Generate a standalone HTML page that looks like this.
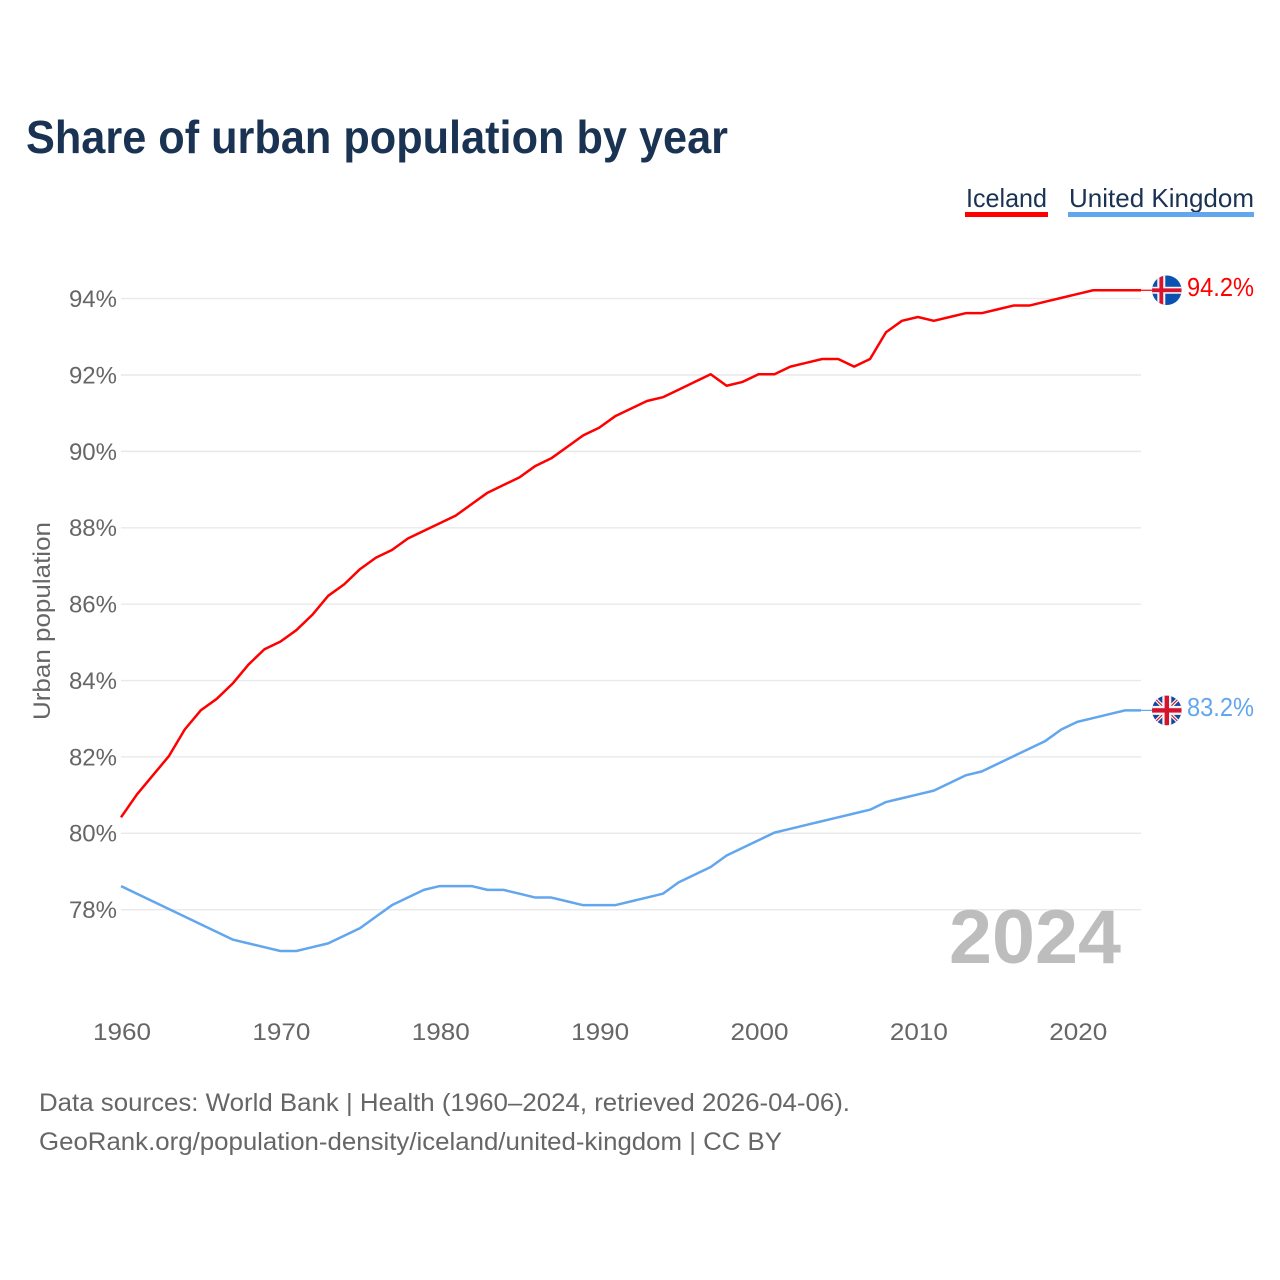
<!DOCTYPE html>
<html lang="en">
<head>
<meta charset="utf-8">
<title>Share of urban population by year</title>
<style>
html,body{margin:0;padding:0;background:#fff;}
svg{display:block;font-family:"Liberation Sans",sans-serif;}
</style>
</head>
<body>
<svg id="chart" xmlns="http://www.w3.org/2000/svg" width="1280" height="1280" viewBox="0 0 1280 1280">
  <defs>
    <clipPath id="flag-clip-iceland"><circle cx="0" cy="0" r="14.8"/></clipPath>
    <clipPath id="flag-clip-uk"><circle cx="0" cy="0" r="14.8"/></clipPath>
  </defs>
  <rect x="0" y="0" width="1280" height="1280" fill="#ffffff"/>
  <text x="26" y="153" font-size="46" font-weight="700" fill="#1a3353" textLength="702" lengthAdjust="spacingAndGlyphs">Share of urban population by year</text>

  <g>
    <g>
      <text x="966" y="207" font-size="26" fill="#1a3353" textLength="81" lengthAdjust="spacingAndGlyphs">Iceland</text>
      <rect x="965" y="212" width="83" height="5" fill="#ff0000"/>
    </g>
    <g>
      <text x="1069" y="207" font-size="26" fill="#1a3353" textLength="185" lengthAdjust="spacingAndGlyphs">United Kingdom</text>
      <rect x="1068" y="212" width="186" height="5" fill="#62a6ee"/>
    </g>
  </g>

  <text transform="translate(50,621) rotate(-90)" text-anchor="middle" font-size="24" fill="#666666" textLength="198" lengthAdjust="spacingAndGlyphs">Urban population</text>

  <g id="grid"></g>
  <g id="ylabels"></g>
  <g id="xlabels"></g>

  <text x="1121" y="963" text-anchor="end" font-size="76" font-weight="700" fill="#bdbdbd" textLength="172" lengthAdjust="spacingAndGlyphs">2024</text>

  <g id="series"></g>

  <g id="flag-iceland">
    <g clip-path="url(#flag-clip-iceland)">
      <rect x="-15" y="-15" width="30" height="30" fill="#0b52b0"/>
      <rect x="-9.5" y="-15" width="8" height="30" fill="#f4f4f4"/>
      <rect x="-15" y="-3.5" width="30" height="7" fill="#f4f4f4"/>
      <rect x="-7.4" y="-15" width="3.8" height="30" fill="#d9122e"/>
      <rect x="-15" y="-1.9" width="30" height="3.8" fill="#d9122e"/>
    </g>
  </g>
  <g id="flag-uk">
    <g clip-path="url(#flag-clip-uk)">
      <rect x="-15" y="-15" width="30" height="30" fill="#12479c"/>
      <path d="M-15 -15L15 15M15 -15L-15 15" stroke="#f4f4f4" stroke-width="3.6" fill="none"/>
      <path d="M-15 -15L15 15M15 -15L-15 15" stroke="#d4142f" stroke-width="1.1" fill="none"/>
      <rect x="-4.5" y="-15" width="9" height="30" fill="#f4f4f4"/>
      <rect x="-15" y="-4.5" width="30" height="9" fill="#f4f4f4"/>
      <rect x="-2.2" y="-15" width="4.4" height="30" fill="#d4142f"/>
      <rect x="-15" y="-2.2" width="30" height="4.4" fill="#d4142f"/>
    </g>
  </g>

  <g font-size="25" fill="#666666">
    <text x="39" y="1111" textLength="811" lengthAdjust="spacingAndGlyphs">Data sources: World Bank | Health (1960–2024, retrieved 2026-04-06).</text>
    <text x="39" y="1150" textLength="743" lengthAdjust="spacingAndGlyphs">GeoRank.org/population-density/iceland/united-kingdom | CC BY</text>
  </g>
</svg>
<script>
const years = [1960,1961,1962,1963,1964,1965,1966,1967,1968,1969,1970,1971,1972,1973,1974,1975,1976,1977,1978,1979,1980,1981,1982,1983,1984,1985,1986,1987,1988,1989,1990,1991,1992,1993,1994,1995,1996,1997,1998,1999,2000,2001,2002,2003,2004,2005,2006,2007,2008,2009,2010,2011,2012,2013,2014,2015,2016,2017,2018,2019,2020,2021,2022,2023,2024];
const icelandValues = [80.4,81.0,81.5,82.0,82.7,83.2,83.5,83.9,84.4,84.8,85.0,85.3,85.7,86.2,86.5,86.9,87.2,87.4,87.7,87.9,88.1,88.3,88.6,88.9,89.1,89.3,89.6,89.8,90.1,90.4,90.6,90.9,91.1,91.3,91.4,91.6,91.8,92.0,91.7,91.8,92.0,92.0,92.2,92.3,92.4,92.4,92.2,92.4,93.1,93.4,93.5,93.4,93.5,93.6,93.6,93.7,93.8,93.8,93.9,94.0,94.1,94.2,94.2,94.2,94.2];
const ukValues = [78.6,78.4,78.2,78.0,77.8,77.6,77.4,77.2,77.1,77.0,76.9,76.9,77.0,77.1,77.3,77.5,77.8,78.1,78.3,78.5,78.6,78.6,78.6,78.5,78.5,78.4,78.3,78.3,78.2,78.1,78.1,78.1,78.2,78.3,78.4,78.7,78.9,79.1,79.4,79.6,79.8,80.0,80.1,80.2,80.3,80.4,80.5,80.6,80.8,80.9,81.0,81.1,81.3,81.5,81.6,81.8,82.0,82.2,82.4,82.7,82.9,83.0,83.1,83.2,83.2];
const yTicks = [78,80,82,84,86,88,90,92,94];
const xTicks = [1960,1970,1980,1990,2000,2010,2020];

const NS = 'http://www.w3.org/2000/svg';
const seriesShift = -0.7;
function xScale(year){ return 121 + (year - 1960) * (1141 - 121) / (2024 - 1960); }
function yScale(v){ return 909.7 - (v - 78) * (909.7 - 298.6) / (94 - 78); }
function make(tag, parent){
  const el = document.createElementNS(NS, tag);
  parent.appendChild(el);
  return el;
}

const grid = document.getElementById('grid');
const ylabels = document.getElementById('ylabels');
yTicks.forEach(function(t){
  const line = make('line', grid);
  
  
  line.setAttribute('x1', 121);
  line.setAttribute('x2', 1141);
  line.setAttribute('y1', yScale(t));
  line.setAttribute('y2', yScale(t));
  line.setAttribute('stroke', '#e9e9e9');
  line.setAttribute('stroke-width', 1.4);
  const label = make('text', ylabels);
  
  
  label.setAttribute('x', 117);
  label.setAttribute('y', yScale(t) + 8.4);
  label.setAttribute('text-anchor', 'end');
  label.setAttribute('font-size', 24);
  label.setAttribute('fill', '#666666');
  label.textContent = t + '%';
});

const xlabels = document.getElementById('xlabels');
xTicks.forEach(function(t){
  const label = make('text', xlabels);
  
  
  label.setAttribute('x', xScale(t) + 1);
  label.setAttribute('y', 1040);
  label.setAttribute('text-anchor', 'middle');
  label.setAttribute('font-size', 24);
  label.setAttribute('fill', '#666666');
  label.setAttribute('textLength', 58);
  label.setAttribute('lengthAdjust', 'spacingAndGlyphs');
  label.textContent = t;
});

const seriesGroup = document.getElementById('series');
function drawSeries(values, color, flagId){
  const last = values[values.length - 1];
  const path = make('path', seriesGroup);
  
  
  path.setAttribute('d', values.map(function(v, i){
    return (i ? 'L' : 'M') + xScale(years[i]).toFixed(2) + ' ' + (yScale(v) + seriesShift).toFixed(2);
  }).join(''));
  path.setAttribute('fill', 'none');
  path.setAttribute('stroke', color);
  path.setAttribute('stroke-width', 2.5);
  path.setAttribute('stroke-linejoin', 'round');
  const lead = make('line', seriesGroup);
  
  
  lead.setAttribute('x1', xScale(years[years.length - 1]));
  lead.setAttribute('x2', 1153);
  lead.setAttribute('y1', yScale(last) + seriesShift);
  lead.setAttribute('y2', yScale(last) + seriesShift);
  lead.setAttribute('stroke', color);
  lead.setAttribute('stroke-width', 1.2);
  document.getElementById(flagId).setAttribute('transform', 'translate(1166.8,' + (yScale(last) + seriesShift) + ')');
  const label = make('text', seriesGroup);
  
  
  label.setAttribute('x', 1254);
  label.setAttribute('y', yScale(last) + seriesShift + 5.8);
  label.setAttribute('text-anchor', 'end');
  label.setAttribute('font-size', 26);
  label.setAttribute('fill', color);
  label.setAttribute('textLength', 67);
  label.setAttribute('lengthAdjust', 'spacingAndGlyphs');
  label.textContent = last.toFixed(1) + '%';
}
drawSeries(icelandValues, '#ff0000', 'flag-iceland');
drawSeries(ukValues, '#62a6ee', 'flag-uk');
</script>
</body>
</html>
